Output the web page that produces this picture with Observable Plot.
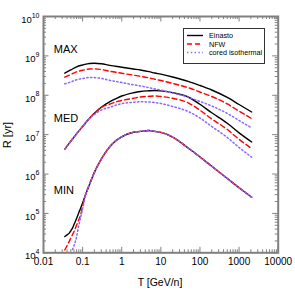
<!DOCTYPE html>
<html><head><meta charset="utf-8">
<script src="https://cdn.jsdelivr.net/npm/d3@7"></script>
<script src="https://cdn.jsdelivr.net/npm/@observablehq/plot@0.6"></script>
<style>
html,body{margin:0;padding:0;background:#fff;}
#chart{width:295px;height:295px;}
</style></head><body><div id="chart"></div>
<script>
// ---- data (T in GeV/n, R in yr) ----
const T = [0.035,0.05,0.07,0.1,0.15,0.2,0.3,0.5,0.7,1,2,3,5,7,10,20,50,100,200,500,1000,2100];
const maxEinasto = [3.64e8,4.39e8,5.28e8,5.87e8,6.41e8,6.49e8,6.30e8,5.74e8,5.47e8,5.16e8,4.65e8,4.39e8,3.97e8,3.68e8,3.43e8,2.91e8,2.26e8,1.77e8,1.36e8,8.79e7,5.83e7,3.76e7];
const maxNFW = [2.88e8,3.37e8,3.94e8,4.31e8,4.65e8,4.68e8,4.49e8,4.05e8,3.85e8,3.61e8,3.24e8,3.03e8,2.75e8,2.55e8,2.37e8,2.00e8,1.56e8,1.21e8,9.31e7,6.01e7,3.96e7,2.55e7];
const maxIso = [1.96e8,2.17e8,2.47e8,2.67e8,2.82e8,2.81e8,2.68e8,2.39e8,2.25e8,2.10e8,1.85e8,1.73e8,1.56e8,1.45e8,1.35e8,1.14e8,8.89e7,6.95e7,5.35e7,3.45e7,2.29e7,1.48e7];
const medEinasto = [4.30e6,6.82e6,1.05e7,1.61e7,2.60e7,3.48e7,4.95e7,6.87e7,8.15e7,9.59e7,1.16e8,1.25e8,1.30e8,1.32e8,1.29e8,1.17e8,9.04e7,5.90e7,3.59e7,1.95e7,1.11e7,6.52e6];
const medNFW = [4.30e6,6.82e6,1.05e7,1.61e7,2.60e7,3.48e7,4.90e7,6.01e7,6.75e7,7.36e7,8.37e7,9.04e7,9.42e7,9.59e7,9.31e7,8.37e7,6.44e7,4.16e7,2.51e7,1.35e7,7.62e6,4.43e6];
const medIso = [4.30e6,6.82e6,1.05e7,1.61e7,2.60e7,3.25e7,4.23e7,4.95e7,5.57e7,6.11e7,6.64e7,6.82e7,6.75e7,6.56e7,6.18e7,5.19e7,3.87e7,2.65e7,1.61e7,8.47e6,4.72e6,2.68e6];
const Tmin = [0.035,0.04,0.045,0.05,0.055,0.06,0.07,0.08,0.09,0.1,0.12,0.15,0.2,0.3,0.5,0.7,1,2,3,5,7,10,20,50,100,200,500,1000,2100];
const minEinasto = [2.59e4,2.85e4,3.11e4,3.62e4,4.24e4,5.14e4,7.38e4,1.05e5,1.40e5,1.83e5,3.06e5,5.46e5,1.10e6,2.38e6,4.98e6,6.95e6,8.83e6,1.15e7,1.21e7,1.27e7,1.21e7,1.14e7,8.67e6,4.58e6,2.71e6,1.58e6,7.71e5,4.48e5,2.58e5];
const minNFW = [1.18e4,1.51e4,1.90e4,2.38e4,2.87e4,3.43e4,4.99e4,7.01e4,9.55e4,1.54e5,3.06e5,5.46e5,1.10e6,2.38e6,4.98e6,6.95e6,8.83e6,1.15e7,1.21e7,1.27e7,1.21e7,1.14e7,8.67e6,4.58e6,2.71e6,1.58e6,7.71e5,4.48e5,2.58e5];
const minIso = [null,null,null,null,1.21e4,1.51e4,2.55e4,5.02e4,8.35e4,1.31e5,3.06e5,5.46e5,1.10e6,2.38e6,4.98e6,6.95e6,8.83e6,1.15e7,1.21e7,1.27e7,1.21e7,1.14e7,8.67e6,4.58e6,2.71e6,1.58e6,7.71e5,4.48e5,2.58e5];

const models = ["Einasto","NFW","cored isothermal"];
const groups = ["MAX","MED","MIN"];
const groupLabelT = [0.0183,0.0183,0.0183];
const groupLabelR = [1.43e9,2.53e7,3.82e5];
const xTicks = [0.01,0.1,1,10,100,1000,10000];
const xTickLabels = ["0.01","0.1","1","10","100","1000","10000"];
const yTicks = [1e4,1e5,1e6,1e7,1e8,1e9,1e10];
const yTickExps = ["4","5","6","7","8","9","10"];
const xTitle = "T [GeV/n]";
const yTitle = "R [yr]";

// ---- build table ----
const table = [];
function add(ts, vals, model, group) {
  ts.forEach((t, i) => { if (vals[i] != null) table.push({T: t, R: vals[i], model, group}); });
}
add(T, maxEinasto, models[0], groups[0]); add(T, maxNFW, models[1], groups[0]); add(T, maxIso, models[2], groups[0]);
add(T, medEinasto, models[0], groups[1]); add(T, medNFW, models[1], groups[1]); add(T, medIso, models[2], groups[1]);
add(Tmin, minEinasto, models[0], groups[2]); add(Tmin, minNFW, models[1], groups[2]); add(Tmin, minIso, models[2], groups[2]);

const minorX = [];
for (let e = -2; e < 4; e++) for (let m = 2; m <= 9; m++) minorX.push(m * Math.pow(10, e));
const minorY = [];
for (let e = 4; e < 10; e++) for (let m = 2; m <= 9; m++) minorY.push(m * Math.pow(10, e));

const W = 295, H = 295, mL = 43, mR = 17.3, mT = 16, mB = 42.7;
const FW = W - mL - mR, FH = H - mT - mB;
const axisColor = "#808080";
const styles = {
  "Einasto": {stroke: "#000000", dash: null, width: 1.4},
  "NFW": {stroke: "#ff0000", dash: "5,3", width: 1.4},
  "cored isothermal": {stroke: "#8866ff", dash: "1.4,2.4", width: 1.5}
};

const lineMarks = models.map(m => Plot.line(table.filter(d => d.model === m), {
  x: "T", y: "R", z: "group", stroke: styles[m].stroke, strokeWidth: styles[m].width,
  strokeDasharray: styles[m].dash, curve: "monotone-x", clip: true
}));

const chart = Plot.plot({
  width: W, height: H,
  marginLeft: mL, marginRight: mR, marginTop: mT, marginBottom: mB,
  style: {fontFamily: "'Liberation Sans', Arial, sans-serif", fontSize: "10px", background: "white", color: "black"},
  x: {type: "log", domain: [0.01, 10000], axis: null},
  y: {type: "log", domain: [1e4, 1e10], axis: null},
  marks: [
    ...lineMarks,
    // ticks (inward, all four sides)
    Plot.tickX(minorX, {x: d => d, insetTop: FH - 3, stroke: axisColor}),
    Plot.tickX(xTicks, {x: d => d, insetTop: FH - 5.5, stroke: axisColor}),
    Plot.tickX(minorX, {x: d => d, insetBottom: FH - 3, stroke: axisColor}),
    Plot.tickX(xTicks, {x: d => d, insetBottom: FH - 5.5, stroke: axisColor}),
    Plot.tickY(minorY, {y: d => d, insetRight: FW - 3, stroke: axisColor}),
    Plot.tickY(yTicks, {y: d => d, insetRight: FW - 5.5, stroke: axisColor}),
    Plot.tickY(minorY, {y: d => d, insetLeft: FW - 3, stroke: axisColor}),
    Plot.tickY(yTicks, {y: d => d, insetLeft: FW - 5.5, stroke: axisColor}),
    Plot.frame({stroke: axisColor, strokeWidth: 2}),
    Plot.axisX(xTicks, {anchor: "bottom", tickSize: 0, tickPadding: 5.5, fontSize: 10,
      tickFormat: d => xTickLabels[xTicks.indexOf(d)], label: null}),
    Plot.axisY(yTicks, {anchor: "left", tickSize: 0, tickPadding: 4, fontSize: 10,
      tickFormat: d => "10^" + yTickExps[yTicks.indexOf(d)], label: null}),
    Plot.text(groups, {x: (d, i) => groupLabelT[i], y: (d, i) => groupLabelR[i], text: d => d,
      textAnchor: "start", fontSize: 11, fill: "black"})
  ]
});
document.getElementById("chart").appendChild(chart);

const svg = d3.select(chart);
// superscript exponents on the y tick labels
svg.selectAll('g[aria-label="y-axis tick label"] text').each(function () {
  const parts = this.textContent.split("^");
  const t = d3.select(this);
  t.text(null).attr("y", 6.3);
  t.append("tspan").attr("font-size", 9.5).text(parts[0]);
  t.append("tspan").attr("font-size", 7).attr("dy", -5.3).text(parts[1]);
});

// axis titles
svg.append("text").attr("x", 160).attr("y", 282).attr("dy", "0.35em")
  .attr("text-anchor", "middle").attr("font-size", 10.5).attr("fill", "black").text(xTitle);
svg.append("text").attr("transform", "translate(10.5,135) rotate(-90)")
  .attr("text-anchor", "middle").attr("font-size", 11).attr("fill", "black").text(yTitle);

// legend
const lg = svg.append("g");
lg.append("rect").attr("x", 183.5).attr("y", 28.5).attr("width", 81).attr("height", 35)
  .attr("fill", "white").attr("stroke", "#333").attr("stroke-width", 1);
models.forEach((m, i) => {
  const yy = 35.5 + i * 8.5;
  lg.append("line").attr("x1", 187).attr("x2", 203).attr("y1", yy).attr("y2", yy)
    .attr("stroke", styles[m].stroke).attr("stroke-width", styles[m].width)
    .attr("stroke-dasharray", styles[m].dash);
  lg.append("text").attr("x", 209).attr("y", yy).attr("dy", "0.35em")
    .attr("text-anchor", "start").attr("font-size", 7.2).attr("fill", "black").text(m);
});
</script></body></html>
